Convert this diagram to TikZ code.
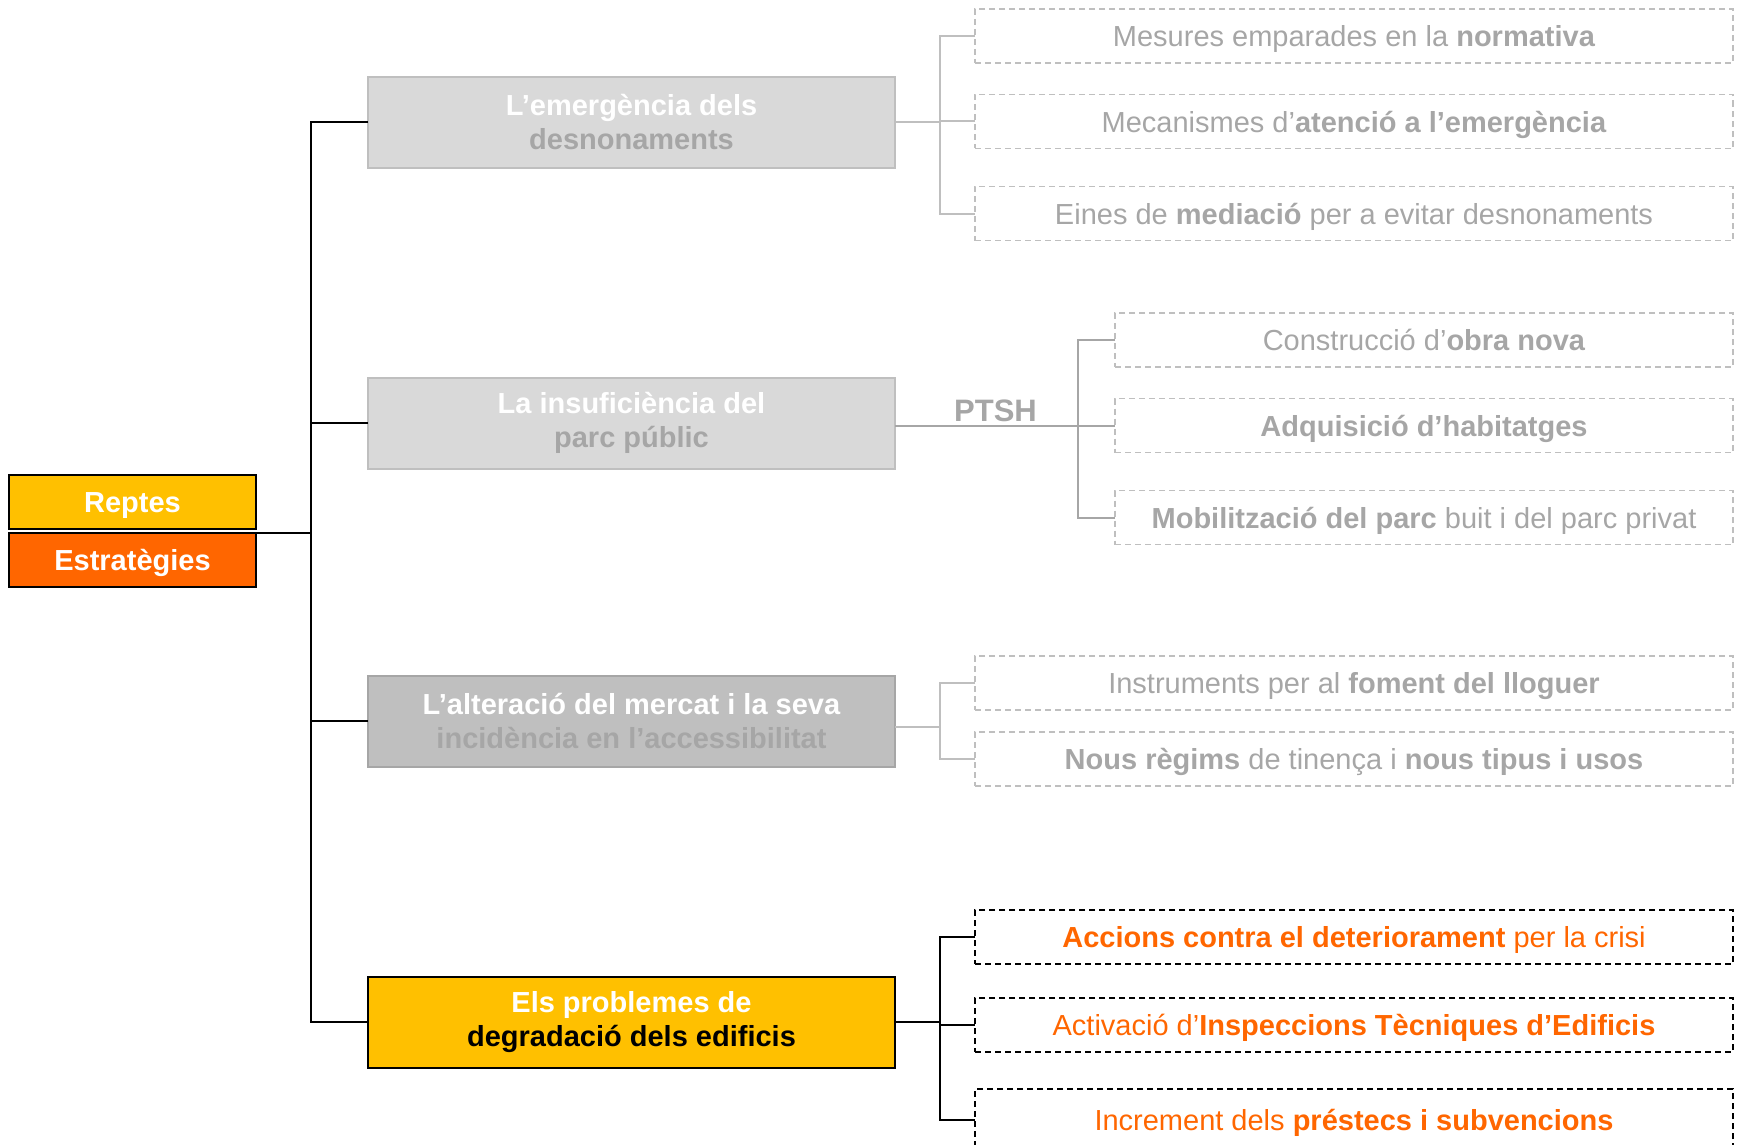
\documentclass[tikz,border=0pt]{standalone}
\usepackage{fontspec}
\setmainfont{Liberation Sans}
\definecolor{tgray}{HTML}{A6A6A6}
\definecolor{lgray}{HTML}{BFBFBF}
\definecolor{boxgray}{HTML}{D9D9D9}
\definecolor{gold}{HTML}{FFC000}
\definecolor{orng}{HTML}{FF6600}
\begin{document}
\begin{tikzpicture}[x=1pt,y=-1pt,
  every node/.style={inner sep=0pt, outer sep=0pt, font=\fontsize{29}{34}\selectfont},
  catbox/.style={draw=black, line width=2pt, minimum width=247pt, minimum height=54pt, text height=22pt, text depth=1pt, text=white, font=\fontsize{29}{34}\selectfont\bfseries},
  titlebox/.style={line width=2pt, minimum width=527pt, minimum height=91pt, align=center, font=\fontsize{29}{34}\selectfont\bfseries},
  actbox/.style={draw=lgray, line width=1.6pt, dash pattern=on 6pt off 4pt, minimum height=54pt, text height=22pt, text depth=1pt, text=tgray},
  actwide/.style={actbox, minimum width=758pt},
  actnarrow/.style={actbox, minimum width=618pt},
  orbox/.style={actwide, draw=black, text=orng},
  conn/.style={draw=black, line width=2pt},
  gconn/.style={draw=lgray, line width=2pt},
  dconn/.style={draw=tgray, line width=2pt}
]
\useasboundingbox (0,0) rectangle (1740,1145);
\clip (0,0) rectangle (1740,1145);

% left category boxes
\node[catbox, fill=gold] (reptes) at (132.5,501.5) {Reptes};
\node[catbox, fill=orng] (estr) at (132.5,560) {Estratègies};

% main boxes
\node[titlebox, fill=boxgray, draw=lgray] (b1) at (631.5,122.5) {{\color{white}L’emergència dels}\\{\color{tgray}desnonaments}};
\node[titlebox, fill=boxgray, draw=lgray] (b2) at (631.5,423) {{\color{white}La insuficiència del}\\{\color{tgray}parc públic}};
\node[titlebox, fill=lgray, draw=tgray] (b3) at (631.5,721) {{\color{white}L’alteració del mercat i la seva}\\{\color{tgray}incidència en l’accessibilitat}};
\node[titlebox, fill=gold, draw=black] (b4) at (631.5,1022) {{\color{white}Els problemes de}\\{\color{black}degradació dels edificis}};

% group 1
\node[actwide] (a1) at (1354,36) {Mesures emparades en la \textbf{normativa}};
\node[actwide] (a2) at (1354,121.5) {Mecanismes d’\textbf{atenció a l’emergència}};
\node[actwide] (a3) at (1354,213.5) {Eines de \textbf{mediació} per a evitar desnonaments};

% group 2
\node[actnarrow] (p1) at (1424,340) {Construcció d’\textbf{obra nova}};
\node[actnarrow] (p2) at (1424,425.5) {\textbf{Adquisició d’habitatges}};
\node[actnarrow] (p3) at (1424,517.5) {\textbf{Mobilització del parc} buit i del parc privat};
\node[text=tgray, font=\fontsize{31}{34}\selectfont\bfseries, anchor=base] (ptsh) at (995.5,421.5) {PTSH};

% group 3
\node[actwide] (m1) at (1354,683) {Instruments per al \textbf{foment del lloguer}};
\node[actwide] (m2) at (1354,759) {\textbf{Nous règims} de tinença i \textbf{nous tipus i usos}};

% group 4
\node[orbox] (d1) at (1354,937) {\textbf{Accions contra el deteriorament} per la crisi};
\node[orbox] (d2) at (1354,1025) {Activació d’\textbf{Inspeccions Tècniques d’Edificis}};
\node[orbox, minimum height=62pt] (d3) at (1354,1120) {Increment dels \textbf{préstecs i subvencions}};

% trunk
\coordinate (tr) at (311,0);
\draw[conn] (b1.west) -- (b1.west -| tr) -- (b4.west -| tr) -- (b4.west);
\draw[conn] (b2.west) -- (b2.west -| tr);
\draw[conn] (b3.west) -- (b3.west -| tr);
\draw[conn] (estr.north east) -- (estr.north east -| tr);

% group 1 bracket
\coordinate (k1) at (940,0);
\draw[gconn] (b1.east) -- (b1.east -| k1);
\draw[gconn] (a1.west) -- (a1.west -| k1) -- (a3.west -| k1) -- (a3.west);
\draw[gconn] (a2.west -| k1) -- (a2.west);

% group 2 bracket
\coordinate (k2) at (1077.5,0);
\draw[dconn] (p2.west -| b2.east) -- (p2.west);
\draw[dconn] (p1.west) -- (p1.west -| k2) -- (p3.west -| k2) -- (p3.west);

% group 3 bracket
\draw[gconn] ([yshift=-6pt]b3.east) -- ([yshift=-6pt]b3.east -| k1);
\draw[gconn] (m1.west) -- (m1.west -| k1) -- (m2.west -| k1) -- (m2.west);

% group 4 bracket
\draw[conn] (b4.east) -- (b4.east -| k1);
\draw[conn] (d1.west) -- (d1.west -| k1) -- (d3.west -| k1) -- (d3.west);
\draw[conn] (d2.west -| k1) -- (d2.west);
\end{tikzpicture}
\end{document}
